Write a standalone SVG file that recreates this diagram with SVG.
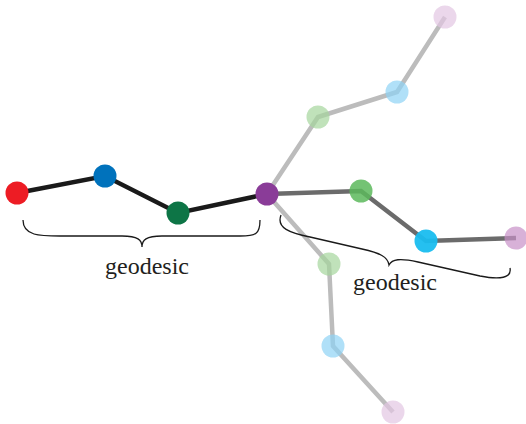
<svg xmlns="http://www.w3.org/2000/svg" width="526" height="424" viewBox="0 0 526 424">
<style>
.dark{stroke:#1a1a1a;stroke-width:4.5;fill:none;stroke-linecap:round}
.mid{stroke:#6b6b6b;stroke-width:4.5;fill:none}
.light{stroke:#bcbcbc;stroke-width:4.5;fill:none}
.brace{stroke:#1a1a1a;stroke-width:1.3;fill:none}
.lbl{font-family:"Liberation Serif",serif;font-size:24px;fill:#231f20;text-anchor:middle}
</style>
<rect width="526" height="424" fill="#fff"/>
<g id="connectors">
<polyline class="dark" points="17,193 105,176 178,213 267,194"/>
<polyline class="mid" points="267,194 361,191 426,241 516,238"/>
<polyline class="light" points="267,194 318,117 397,92 445,17"/>
<polyline class="light" points="267,194 329,264 333,346 393,412"/>
</g>
<g id="n-red"><circle cx="17" cy="193" r="11.5" fill="#ed1c24"/></g>
<g id="n-blue"><circle cx="105" cy="176" r="11.5" fill="#0072bc"/></g>
<g id="n-dgreen"><circle cx="178" cy="213" r="11.5" fill="#0d7546"/></g>
<g id="n-purple"><circle cx="267" cy="194" r="11.5" fill="#8a3c98"/></g>
<g id="n-green"><circle cx="361" cy="191" r="11.5" fill="#5cb85c" fill-opacity="0.85"/></g>
<g id="n-cyan"><circle cx="426" cy="241" r="11.5" fill="#19bdef" fill-opacity="0.95"/></g>
<g id="n-pink"><circle cx="516" cy="238" r="11.5" fill="#c890c8" fill-opacity="0.7"/></g>
<g id="n-lgreen1"><circle cx="318" cy="117" r="11.5" fill="#a5d69c" fill-opacity="0.7"/></g>
<g id="n-lblue1"><circle cx="397" cy="92" r="11.5" fill="#8fd3f5" fill-opacity="0.7"/></g>
<g id="n-lpink1"><circle cx="445" cy="17" r="11.5" fill="#e2c6e2" fill-opacity="0.7"/></g>
<g id="n-lgreen2"><circle cx="329" cy="264" r="11.5" fill="#a5d69c" fill-opacity="0.7"/></g>
<g id="n-lblue2"><circle cx="333" cy="346" r="11.5" fill="#8fd3f5" fill-opacity="0.7"/></g>
<g id="n-lpink2"><circle cx="393" cy="412" r="11.5" fill="#e2c6e2" fill-opacity="0.7"/></g>
<g id="brace-left">
<path class="brace" d="M23,220 C23,236 40,236 60,236 L122,236 C138,236 142,240 142,247 C142,240 146,236 162,236 L240,236 C256,236 260,234 260,220"/>
<text class="lbl" x="147" y="274">geodesic</text>
</g>
<g id="brace-right">
<path class="brace" d="M281,215 C276,228 290,233 310,237 L362,249 C380,253 388,257 389,265 C392,259 400,258 418,262 L480,276 C500,280 512,278 510,268"/>
<text class="lbl" x="395" y="290">geodesic</text>
</g>
</svg>
